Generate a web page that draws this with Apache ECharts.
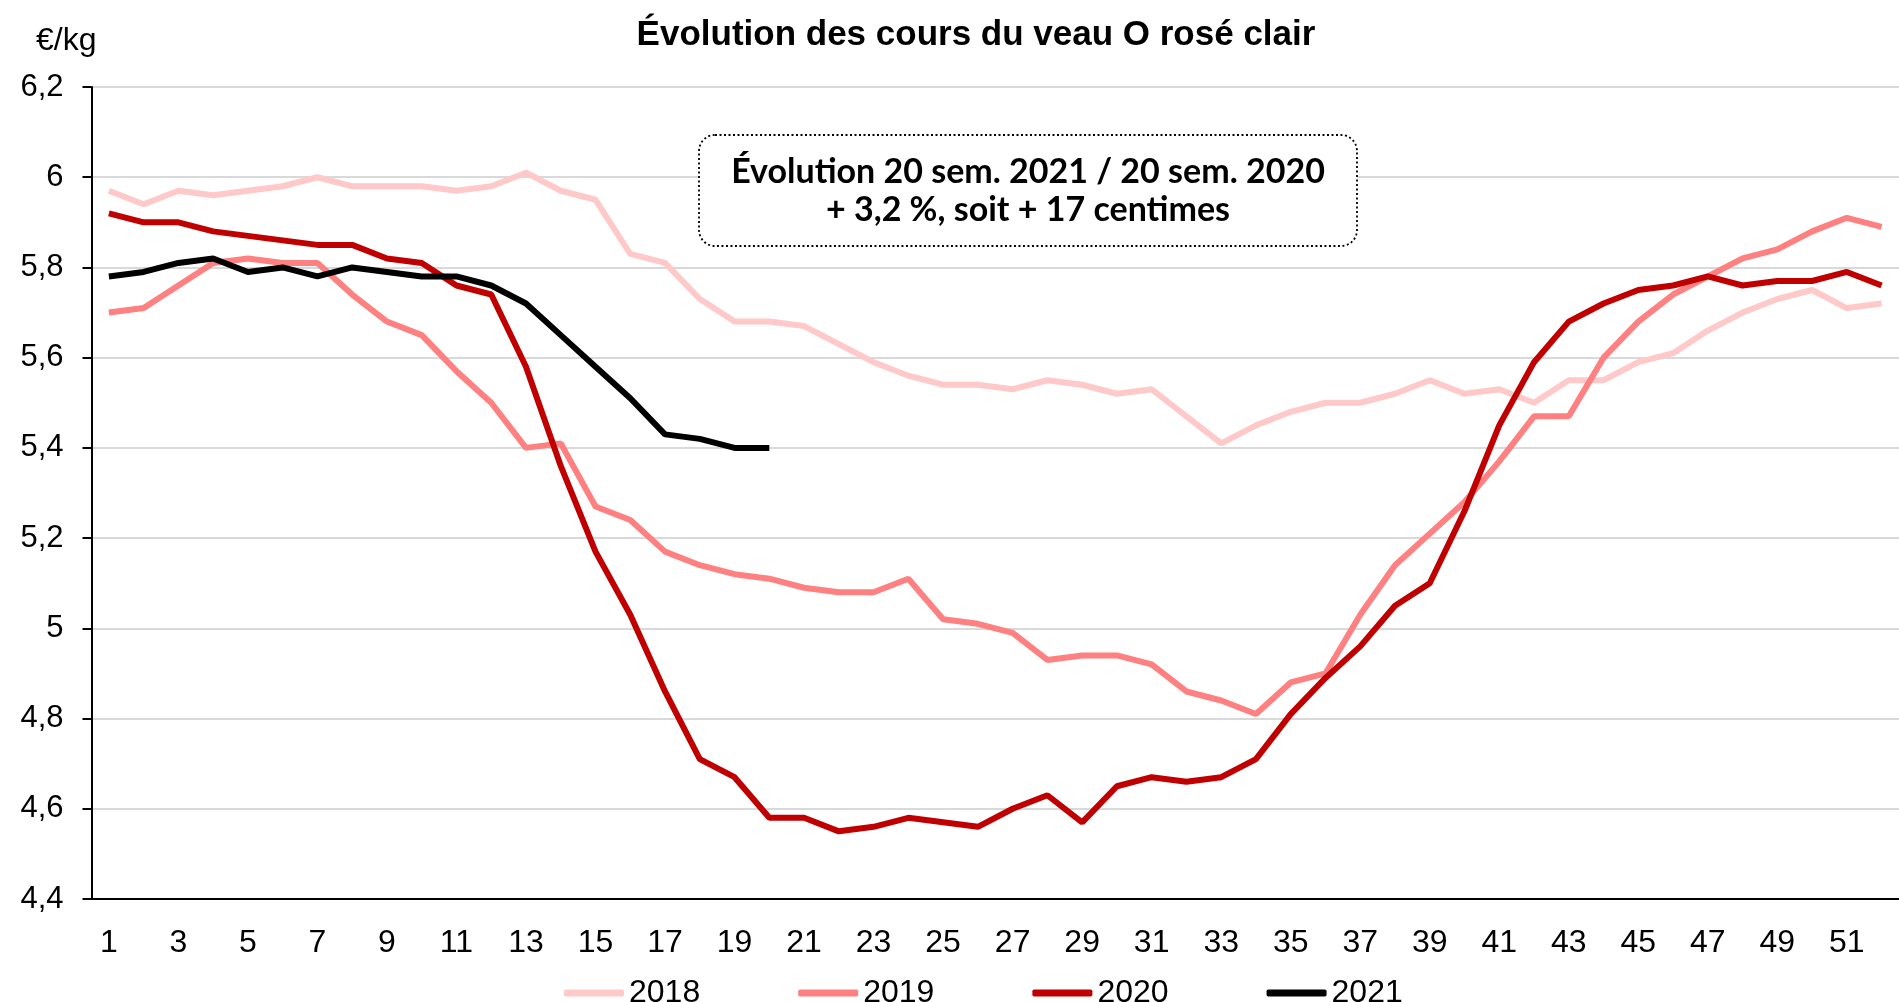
<!DOCTYPE html>
<html>
<head>
    <meta charset="utf-8">
    <script src="https://cdn.jsdelivr.net/npm/echarts@6.0.0/dist/echarts.min.js"></script>
    <style>
        html, body { margin: 0; padding: 0; background: #fff; }
    </style>
</head>
<body>
    <div id="main" style="width: 1899px;height:1002px"></div>

    <script type="text/javascript">
        // semaines
        var semaines = ['1','2','3','4','5','6','7','8','9','10','11','12','13','14','15','16','17','18','19','20',
            '21','22','23','24','25','26','27','28','29','30','31','32','33','34','35','36','37','38','39','40',
            '41','42','43','44','45','46','47','48','49','50','51','52'];

        // cours en €/kg
        var cours2018 = [5.97,5.94,5.97,5.96,5.97,5.98,6.00,5.98,5.98,5.98, 5.97,5.98,6.01,5.97,5.95,5.83,5.81,5.73,5.68,5.68,
            5.67,5.63,5.59,5.56,5.54,5.54,5.53,5.55,5.54,5.52, 5.53,5.47,5.41,5.45,5.48,5.50,5.50,5.52,5.55,5.52,
            5.53,5.50,5.55,5.55,5.59,5.61,5.66,5.70,5.73,5.75,5.71,5.72];
        var cours2019 = [5.70,5.71,5.76,5.81,5.82,5.81,5.81,5.74,5.68,5.65, 5.57,5.50,5.40,5.41,5.27,5.24,5.17,5.14,5.12,5.11,
            5.09,5.08,5.08,5.11,5.02,5.01,4.99,4.93,4.94,4.94, 4.92,4.86,4.84,4.81,4.88,4.90,5.03,5.14,5.21,5.28,
            5.37,5.47,5.47,5.60,5.68,5.74,5.78,5.82,5.84,5.88,5.91,5.89];
        var cours2020 = [5.92,5.90,5.90,5.88,5.87,5.86,5.85,5.85,5.82,5.81, 5.76,5.74,5.58,5.36,5.17,5.03,4.86,4.71,4.67,4.58,
            4.58,4.55,4.56,4.58,4.57,4.56,4.60,4.63,4.57,4.65, 4.67,4.66,4.67,4.71,4.81,4.89,4.96,5.05,5.10,5.26,
            5.45,5.59,5.68,5.72,5.75,5.76,5.78,5.76,5.77,5.77,5.79,5.76];
        var cours2021 = [5.78,5.79,5.81,5.82,5.79,5.80,5.78,5.80,5.79,5.78, 5.78,5.76,5.72,5.65,5.58,5.51,5.43,5.42,5.40,5.40];

        var police = "'Liberation Sans', Arial, sans-serif";

        var myChart = echarts.init(document.getElementById('main'));
        var option = {
            animation: false,
            backgroundColor: '#fff',
            title: {
                text: 'Évolution des cours du veau O rosé clair',
                left: 971,
                textAlign: 'center',
                top: 13,
                textStyle: { fontFamily: police, fontSize: 35, fontWeight: 'bold', color: '#000' }
            },
            grid: {
                left: 91.5,
                right: -14.5,
                top: 87,
                bottom: 103
            },
            legend: {
                data: ['2018','2019','2020','2021'],
                left: 559,
                top: 972,
                icon: 'roundRect',
                itemWidth: 60,
                itemHeight: 7,
                itemGap: 98,
                textStyle: { fontFamily: police, fontSize: 32, color: '#000' }
            },
            graphic: [
                {
                    type: 'text',
                    left: 36,
                    top: 25,
                    style: { text: '€/kg', font: '32px ' + police, fill: '#000' }
                },
                {
                    type: 'rect',
                    shape: { x: 699, y: 135, width: 658, height: 111, r: 16 },
                    style: { fill: '#fff', stroke: '#000', lineWidth: 1.8, lineDash: [2, 2.5] },
                    z: 10
                },
                {
                    type: 'text',
                    x: 1028, y: 172,
                    style: {
                        text: 'Évolution 20 sem. 2021 / 20 sem. 2020',
                        font: 'bold 34px Lato, sans-serif',
                        fill: '#000', align: 'center', verticalAlign: 'middle'
                    },
                    z: 11
                },
                {
                    type: 'text',
                    x: 1028, y: 210,
                    style: {
                        text: '+ 3,2 %, soit + 17 centimes',
                        font: 'bold 34px Lato, sans-serif',
                        fill: '#000', align: 'center', verticalAlign: 'middle'
                    },
                    z: 11
                }
            ],
            xAxis: {
                type: 'category',
                data: semaines,
                boundaryGap: true,
                axisLine: { lineStyle: { color: '#000', width: 2 } },
                axisTick: { length: 10, lineStyle: { color: '#000', width: 2 } },
                axisLabel: {
                    interval: 1,
                    margin: 28,
                    color: '#000',
                    fontFamily: police,
                    fontSize: 32
                },
                splitLine: { show: false }
            },
            yAxis: {
                type: 'value',
                min: 4.4,
                max: 6.2,
                interval: 0.2,
                axisLine: { show: true, lineStyle: { color: '#000', width: 2 } },
                axisTick: { show: true, length: 9, lineStyle: { color: '#000', width: 2 } },
                axisLabel: {
                    margin: 28,
                    color: '#000',
                    fontFamily: police,
                    fontSize: 31,
                    formatter: function (v) {
                        return String(Math.round(v * 10) / 10).replace('.', ',');
                    }
                },
                splitLine: { lineStyle: { color: '#d9d9d9', width: 2 } }
            },
            series: [{
                name: '2018',
                type: 'line',
                symbol: 'none',
                color: '#ffc9c9',
                lineStyle: { width: 6 },
                data: cours2018
            }, {
                name: '2019',
                type: 'line',
                symbol: 'none',
                color: '#ff8080',
                lineStyle: { width: 6 },
                data: cours2019
            }, {
                name: '2020',
                type: 'line',
                symbol: 'none',
                color: '#c00000',
                lineStyle: { width: 6 },
                data: cours2020
            }, {
                name: '2021',
                type: 'line',
                symbol: 'none',
                color: '#000000',
                lineStyle: { width: 6 },
                data: cours2021
            }]
        };

        myChart.setOption(option);
    </script>
</body>
</html>
